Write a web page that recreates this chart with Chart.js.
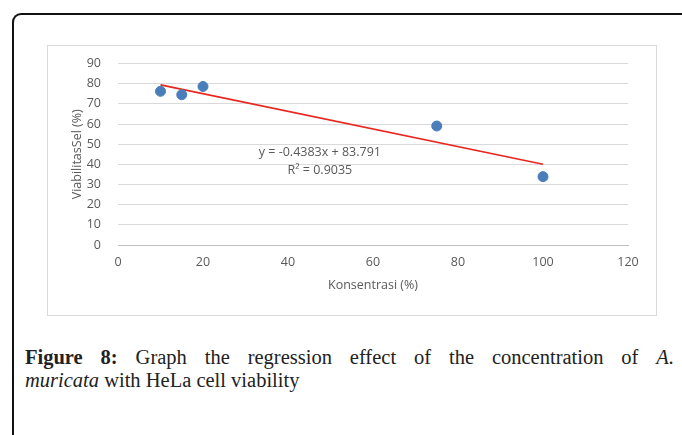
<!DOCTYPE html>
<html>
<head>
<meta charset="utf-8">
<script src="https://cdn.jsdelivr.net/npm/chart.js@4/dist/chart.umd.min.js"></script>
<style>
  html, body { margin: 0; padding: 0; background: #fff; width: 682px; height: 435px; overflow: hidden; }
  #frame {
    position: absolute; left: 12px; top: 13px; width: 700px; height: 440px;
    border-left: 2px solid #111; border-top: 2px solid #111; border-top-left-radius: 9px;
  }
  #box {
    position: absolute; left: 47px; top: 45px; width: 608px; height: 269px;
    border: 1px solid #d9d9d9;
  }
  #box canvas { position: absolute; left: 0; top: -7px; }
  #caption {
    position: absolute; left: 25px; top: 346px; width: 649px;
    font-family: "Liberation Serif", "DejaVu Serif", serif; font-size: 20.5px; line-height: 23px;
    color: #222;
  }
  #caption .l1 { text-align: justify; text-align-last: justify; }
</style>
</head>
<body>
<div id="frame"></div>
<div id="box"><canvas id="chart" width="608" height="276"></canvas></div>
<div id="caption">
  <div class="l1"><b>Figure 8:</b> Graph the regression effect of the concentration of <i>A.</i></div>
  <div><i>muricata</i> with HeLa cell viability</div>
</div>
<script>
// data
const concentration = [10, 15, 20, 75, 100];
const viability = [76.2, 74.5, 78.6, 59, 33.9];
const trendX = [10, 100];
const trendY = [79.4, 40.0];
const xTicks = [0, 20, 40, 60, 80, 100, 120];
const yTicks = [0, 10, 20, 30, 40, 50, 60, 70, 80, 90];
const equationText = ["y = -0.4383x + 83.791", "R\u00b2 = 0.9035"];

const tickFont = { family: "Open Sans", size: 12.5 };
const gray = "#595959";

// regression label drawn in data coordinates
const equationLabel = {
    id: "equationLabel",
    afterDatasetsDraw(chart) {
        const ctx = chart.ctx;
        const x = chart.scales.x.getPixelForValue(47.5);
        ctx.save();
        ctx.font = "12.5px 'Open Sans'";
        ctx.fillStyle = gray;
        ctx.textAlign = "center";
        ctx.textBaseline = "middle";
        ctx.fillText(equationText[0], x, chart.scales.y.getPixelForValue(45.7));
        ctx.fillText(equationText[1], x, chart.scales.y.getPixelForValue(37.1));
        ctx.restore();
    }
};

new Chart(document.getElementById("chart").getContext("2d"), {
    type: "scatter",
    data: {
        datasets: [
            {
                label: "Viabilitas",
                data: concentration.map((c, i) => ({ x: c, y: viability[i] })),
                backgroundColor: "#4a7ebb",
                borderColor: "#4a7ebb",
                pointRadius: 5,
                order: 1
            },
            {
                label: "Trend",
                type: "line",
                data: trendX.map((c, i) => ({ x: c, y: trendY[i] })),
                borderColor: "#e8261f",
                borderWidth: 1.6,
                pointRadius: 0,
                fill: false,
                order: 2
            }
        ]
    },
    options: {
        responsive: false,
        animation: false,
        layout: { padding: { left: 22, top: 4, right: 28, bottom: 22 } },
        plugins: { legend: { display: false }, tooltip: { enabled: false } },
        scales: {
            x: {
                type: "linear",
                min: 0, max: 120,
                afterBuildTicks: axis => { axis.ticks = xTicks.map(v => ({ value: v })); },
                grid: { display: false, drawTicks: false },
                border: { display: true, color: "#bfbfbf", width: 1 },
                ticks: { color: gray, font: tickFont, padding: 10 },
                title: { display: true, text: "Konsentrasi (%)", color: gray, font: { family: "Open Sans", size: 12.5 }, padding: { top: 4, bottom: 0 } },
                afterFit: axis => { axis.height = 48; }
            },
            y: {
                min: 0, max: 90,
                afterBuildTicks: axis => { axis.ticks = yTicks.map(v => ({ value: v })); },
                grid: { color: "#d9d9d9", drawTicks: false },
                border: { display: false },
                ticks: { color: gray, font: tickFont, padding: 17 },
                title: { display: true, text: "ViabilitasSel (%)", color: gray, font: { family: "Open Sans", size: 12.5 }, padding: 0 },
                afterFit: axis => { axis.width = 48; }
            }
        }
    },
    plugins: [equationLabel]
});
</script>
</body>
</html>
